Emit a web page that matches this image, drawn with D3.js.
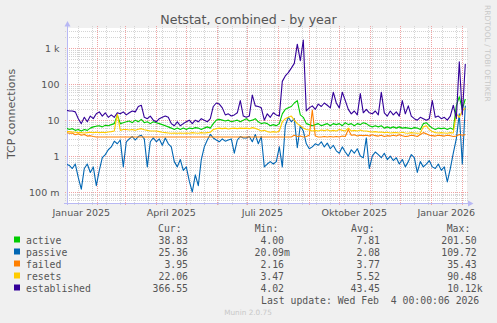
<!DOCTYPE html>
<html><head><meta charset="utf-8">
<script src="https://cdn.jsdelivr.net/npm/d3@7"></script>
<style>html,body{margin:0;padding:0;background:#f0f0f0;} svg{display:block;}</style>
</head><body>
<svg id="c" width="497" height="323"></svg>
<script>
// ---- data (one point every 3 days starting 1 Jan 2025) ----
const startDate = Date.UTC(2025, 0, 1);
const stepDays = 3;

const active = [
 6,5.5,5.8,5.2,5.5,5,5.5,5.2,6,6.5,
 6.8,7,6.5,7.2,7,7.5,8,14,8,8.5,
 9,9.5,8.5,10,9,10.5,8.5,9,8,9,
 8.5,8,7.5,7,6.5,6,5.5,6,5.5,6,
 5.5,6,5.8,6.2,6,5.5,6,6.5,6,8,
 10,10.5,10,9.5,10,9,9.5,10,9,10,
 11,9.5,10,11,9,8,8.5,8,7,7.5,
 7,8,15,20,22,24,30,35,14,12,
 8,7.5,7,7.5,8,7,7.5,8,7,8,
 7.5,8,7,8.5,7.5,8,7,8,7.5,8.5,
 8,7,6.5,7,6.5,7,6,6.5,6,6.5,
 6,6.5,6,6.2,6,5.8,6.2,6,5.5,8,
 8.5,7,6,5.5,6,5.8,6,5.5,6,5.5,
 25,45,20,38.83
];
const passive = [
 0.6,0.55,0.45,0.6,0.25,0.12,0.45,0.6,0.35,0.5,
 0.15,0.4,0.9,1.1,1.5,1.8,2.6,2.2,2.8,0.5,
 2.5,3,3.5,2.8,3.5,3.8,3,0.5,2.5,3.2,
 2.5,3,2,3.2,2.2,1.8,0.7,0.5,0.8,0.4,
 0.5,0.2,0.1,0.3,0.15,0.8,1.8,2.8,4,3.2,
 2.8,2.5,3,2.6,2.8,3,1.2,2.8,3.5,3.2,
 3.2,3.5,2.5,4,2.2,3.5,0.5,0.6,0.7,0.6,
 0.7,1.8,0.5,7,12,9,11,1.7,7,5,
 2.2,1.6,1.8,2.2,2,2.5,1.8,2.3,1.6,2,
 1.4,1.2,1.8,1.3,1.0,1.5,1.2,1.6,1.0,0.9,
 3.2,0.45,1.0,1.3,1.1,0.9,1.2,0.8,1.0,0.75,
 0.9,0.6,0.8,0.5,0.7,1.1,0.9,0.35,0.7,0.5,
 0.6,0.75,0.5,0.45,0.6,0.4,0.5,0.19,0.45,1.2,
 3,15,0.6,25.36
];
const failed = [
 4.5,4.3,4.4,3.9,4.2,3.8,4,3.6,3.7,3.5,
 3.4,3.4,3.4,3.4,3.4,3.4,3.4,3.4,3.4,3.4,
 3.4,3.4,3.4,3.4,3.4,3.4,3.4,3.4,3.4,3.4,
 3.4,3.4,3.4,3.4,3.4,3.4,3.4,3.4,3.4,3.4,
 3.4,3.4,3.4,3.4,3.4,3.4,3.4,3.4,3.4,3.4,
 3.4,3.4,3.4,3.4,3.4,3.4,3.4,3.4,3.4,3.4,
 3.4,3.4,3.4,3.4,3.4,3.4,3.4,3.4,3.4,3.4,
 3.4,3.4,3.4,3.4,3.4,3.4,3.8,3.5,3.6,3.4,
 3.5,3.8,19,3.6,3.4,3.4,3.5,3.4,3.5,3.4,
 3.5,3.4,3.6,3.5,5.5,3.8,3.9,3.6,3.8,3.7,
 3.8,3.6,3.9,3.7,3.6,3.8,3.5,3.7,3.6,3.8,
 3.6,3.9,3.7,3.5,3.6,3.8,3.7,3.5,4,4.5,
 4.2,3.8,3.7,3.6,3.8,3.7,3.6,3.8,3.7,3.5,
 3.6,4,3.8,3.95
];
const resets = [
 4.8,4.8,4.7,4.6,4.5,4.5,4.4,4.5,4.6,4.5,
 4.6,4.5,4.6,4.5,4.7,4.8,5,15,5.2,5.5,
 5.5,5.3,5.5,5.2,5.6,5.8,5.4,5.2,5,5,
 5,4.8,4.6,4.5,4.4,4.3,4.4,4.3,4.4,4.3,
 4.4,4.3,4.5,4.4,4.3,4.5,4.4,4.5,4.6,5.5,
 5.8,6,5.8,6,5.7,5.9,6,5.8,6,5.9,
 6,5.8,6.2,5.9,5.5,5,5.2,4.8,4.6,4.8,
 4.6,5,9,11,12,13,10,8,7,6,
 5.5,5.3,5,5.2,5,5.3,5.1,5.4,5,5.2,
 5,5.5,5.2,5,6,5,5.2,5,5.3,5,
 5,4.8,4.7,4.8,4.6,4.7,4.5,4.6,4.4,4.5,
 4.5,4.4,4.6,4.4,4.3,4.5,4.4,4.3,4.4,6.5,
 7,5.5,4.8,4.5,4.4,4.5,4.4,4.3,4.5,4.4,
 15,12,18,22.06
];
const established = [
 19,18,18,17,11,8,12,9,13,11,
 15,17,13,16,12,14,12,16,15,17,
 14,16,18,17,24,26,12,11,13,10,
 9,11,12,13,12,8,7,9,7,8,
 9,10,8,10,9,11,10,9,11,24,
 30,28,22,14,15,13,14,16,35,13,
 12,13,50,25,24,22,10,15,12,16,
 14,13,120,170,210,280,380,1300,450,1700,
 18,22,25,20,28,24,30,26,22,60,
 30,22,60,35,20,15,18,14,55,16,
 20,16,15,18,14,60,16,13,18,14,
 17,13,35,15,25,13,11,10,12,11,
 10,11,35,12,13,11,12,10,13,26,
 11,420,14,366.55
];

const seriesNames = ["active", "passive", "failed", "resets", "established"];
const seriesColors = ["#00CC00", "#0066B3", "#FF8000", "#FFCC00", "#330099"];
const curVals = ["38.83", "25.36", "3.95", "22.06", "366.55"];
const minVals = ["4.00", "20.09m", "2.16", "3.47", "4.02"];
const avgVals = ["7.81", "2.08", "3.77", "5.52", "43.45"];
const maxVals = ["201.50", "109.72", "35.43", "90.48", "10.12k"];

const yTickValues = [0.1, 1, 10, 100, 1000];
const yTickLabels = ["100 m", "1", "10", "100", "1 k"];
const xLabelMonths = [[2025, 0], [2025, 3], [2025, 6], [2025, 9], [2026, 0]];
const xLabels = ["Januar 2025", "April 2025", "Juli 2025", "Oktober 2025", "Januar 2026"];

const titleText = "Netstat, combined - by year";
const yAxisTitle = "TCP connections";
const lastUpdate = "Last update: Wed Feb  4 00:00:06 2026";

// ---- layout ----
const DAY = 86400000;
const L = 67, R = 467, T = 28, B = 203;
const svg = d3.select("#c");
const font = "DejaVu Sans, sans-serif";
const mono = "DejaVu Sans Mono, monospace";
const txt = "#555";

const x = d3.scaleUtc()
  .domain([new Date(startDate + 0.7 * DAY), new Date(startDate + 400.7 * DAY)])
  .range([L, R]);
const y = d3.scaleLog().domain([0.1, 1000]).range([192, 48.3]);

svg.append("rect").attr("width", 497).attr("height", 323).attr("fill", "#f0f0f0");
svg.append("rect").attr("x", L).attr("y", T).attr("width", R - L).attr("height", B - T).attr("fill", "#fff");

const minorC = "#d4d4d4", majorC = "#f0a4a4";
const grid = svg.append("g");
// minor horizontal
for (let d = -2; d <= 3; d++) {
  for (let k = 2; k <= 9; k++) {
    const v = k * Math.pow(10, d);
    const yy = y(v);
    if (yy < T || yy > B) continue;
    const p = Math.round(yy) + 0.5;
    grid.append("line").attr("x1", L - 2).attr("x2", R + 2).attr("y1", p).attr("y2", p)
      .attr("stroke", minorC).attr("stroke-dasharray", "1,1");
  }
}
// minor vertical (every 2 weeks)
for (let t = Date.UTC(2025, 0, 13); t < startDate + 401 * DAY; t += 14 * DAY) {
  const xx = x(new Date(t));
  if (xx < L || xx > R) continue;
  const p = Math.round(xx) + 0.5;
  grid.append("line").attr("x1", p).attr("x2", p).attr("y1", T - 2).attr("y2", B + 2)
    .attr("stroke", minorC).attr("stroke-dasharray", "1,1");
}
// major horizontal
yTickValues.forEach(v => {
  const p = Math.round(y(v)) + 0.5;
  grid.append("line").attr("x1", L - 2).attr("x2", R + 2).attr("y1", p).attr("y2", p)
    .attr("stroke", majorC).attr("stroke-dasharray", "1,1");
});
// major vertical (months)
for (let m = 0; m < 14; m++) {
  const t = new Date(Date.UTC(2025, m, 1));
  const xx = x(t);
  if (xx < L || xx > R) continue;
  const p = Math.round(xx) + 0.5;
  grid.append("line").attr("x1", p).attr("x2", p).attr("y1", T - 2).attr("y2", B + 3)
    .attr("stroke", majorC).attr("stroke-dasharray", "1,1");
}

// axes
const axc = "#b8b8f4";
svg.append("line").attr("x1", L + 0.5).attr("x2", L + 0.5).attr("y1", B + 2).attr("y2", 24).attr("stroke", axc);
svg.append("path").attr("d", `M${L - 2.5},26.5 L${L + 3.5},26.5 L${L + 0.5},21 Z`).attr("fill", axc);
svg.append("line").attr("x1", L - 3).attr("x2", 470).attr("y1", B + 0.5).attr("y2", B + 0.5).attr("stroke", axc);
svg.append("path").attr("d", `M468,${B - 2.5} L468,${B + 3.5} L473.5,${B + 0.5} Z`).attr("fill", axc);

// y tick labels
yTickValues.forEach((v, i) => {
  svg.append("text").attr("x", 59.5).attr("y", y(v) + 3.5).attr("text-anchor", "end")
    .attr("font-family", font).attr("font-size", 9.5).attr("fill", txt).text(yTickLabels[i]);
});
// x labels at month + 15 days
xLabelMonths.forEach((m, i) => {
  const t = new Date(Date.UTC(m[0], m[1], 1) + 15 * DAY);
  svg.append("text").attr("x", x(t)).attr("y", 216).attr("text-anchor", "middle")
    .attr("font-family", font).attr("font-size", 9.5).attr("fill", txt).text(xLabels[i]);
});

// series lines
const allSeries = [active, passive, failed, resets, established];
const clip = svg.append("clipPath").attr("id", "pc");
clip.append("rect").attr("x", L).attr("y", T).attr("width", R - L + 1).attr("height", B - T);
const line = d3.line()
  .x((d, i) => x(new Date(startDate + i * stepDays * DAY)))
  .y(d => y(d));
const lg = svg.append("g").attr("clip-path", "url(#pc)");
allSeries.forEach((s, k) => {
  lg.append("path").attr("d", line(s)).attr("fill", "none")
    .attr("stroke", seriesColors[k]).attr("stroke-width", 1.1).attr("stroke-linejoin", "round");
});

// title
svg.append("text").attr("x", 248.5).attr("y", 23.5).attr("text-anchor", "middle")
  .attr("font-family", font).attr("font-size", 12.6).attr("fill", txt).text(titleText);
// y axis title
svg.append("text").attr("transform", "translate(14.5,114) rotate(-90)").attr("text-anchor", "middle")
  .attr("font-family", font).attr("font-size", 11).attr("fill", txt).text(yAxisTitle);
// watermark
svg.append("text").attr("transform", "translate(485,5) rotate(90)").attr("text-anchor", "start")
  .attr("font-family", font).attr("font-size", 7.5).attr("fill", "#c8c8c8").text("RRDTOOL / TOBI OETIKER");

// legend
const cw = 5.9;
const headers = [["Cur:", 158], ["Min:", 254.7], ["Avg:", 351], ["Max:", 446.7]];
headers.forEach(h => {
  svg.append("text").attr("x", h[1]).attr("y", 231.5).attr("font-family", mono).attr("font-size", 9.8)
    .attr("fill", txt).text(h[0]);
});
const cols = [[curVals, 188], [minVals, 284], [avgVals, 380], [maxVals, 476.7]];
seriesNames.forEach((n, i) => {
  const by = 244 + i * 12;
  svg.append("rect").attr("x", 14).attr("y", by - 7.5).attr("width", 6).attr("height", 6).attr("fill", seriesColors[i]);
  svg.append("text").attr("x", 26).attr("y", by).attr("font-family", mono).attr("font-size", 9.8)
    .attr("fill", txt).text(n);
  cols.forEach(c => {
    const s = c[0][i];
    const hasUnit = /[a-zA-Z]$/.test(s);
    svg.append("text").attr("x", c[1] + (hasUnit ? cw : 0)).attr("y", by).attr("text-anchor", "end")
      .attr("font-family", mono).attr("font-size", 9.8).attr("fill", txt).text(s);
  });
});
svg.append("text").attr("x", 261).attr("y", 303.5).attr("font-family", mono).attr("font-size", 9.8)
  .attr("fill", txt).attr("xml:space", "preserve").style("white-space", "pre").text(lastUpdate);
svg.append("text").attr("x", 248).attr("y", 315).attr("text-anchor", "middle")
  .attr("font-family", font).attr("font-size", 7.3).attr("fill", "#c8c8c8").text("Munin 2.0.75");
</script>
</body></html>
